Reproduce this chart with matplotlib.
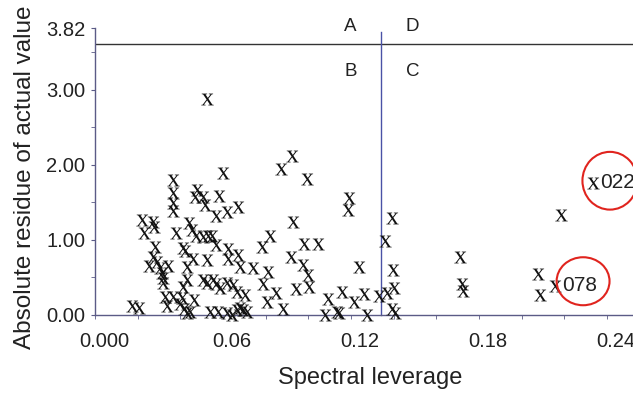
import numpy as np
import matplotlib.pyplot as plt
from matplotlib.patches import Ellipse
from matplotlib.path import Path
from matplotlib.textpath import TextPath
from matplotlib.font_manager import FontProperties

plt.rcParams['font.family'] = ['Liberation Sans', 'DejaVu Sans']

# --- data ---
leverage = [
    0.0483, 0.0558, 0.0830, 0.0881, 0.0952, 0.0323, 0.0323, 0.0436, 0.0427, 0.0464,
    0.0539, 0.0323, 0.0474, 0.0628, 0.0577, 0.0525, 0.0323, 0.0178, 0.0230, 0.0234,
    0.0188, 0.0338, 0.0398, 0.0413, 0.0431, 0.0464, 0.0488, 0.0506, 0.0525, 0.0778,
    0.0741, 0.0239, 0.0370, 0.0380, 0.0581, 0.0628, 0.0230, 0.0211, 0.0248, 0.0263,
    0.0300, 0.0417, 0.0389, 0.0483, 0.0581, 0.0638, 0.0699, 0.0769, 0.0272, 0.0277,
    0.0277, 0.0389, 0.0370, 0.0464, 0.0483, 0.0511, 0.0525, 0.0544, 0.0577, 0.0605,
    0.0624, 0.0661, 0.0745, 0.0806, 0.0764, 0.0286, 0.0323, 0.0366, 0.0422, 0.0295,
    0.0356, 0.0375, 0.0389, 0.0403, 0.0131, 0.0164, 0.0497, 0.0534, 0.0577, 0.0600,
    0.0624, 0.0638, 0.0652, 0.0670, 0.0839, 0.1149, 0.1144, 0.0886, 0.0938, 0.1003,
    0.0877, 0.0933, 0.0956, 0.0961, 0.1195, 0.0900, 0.1050, 0.1036, 0.1116, 0.1172,
    0.1092, 0.1102, 0.1219, 0.1233, 0.1289, 0.1327, 0.1360, 0.1350, 0.1317, 0.1355,
    0.1350, 0.1364, 0.1669, 0.1678, 0.1683, 0.2035, 0.2044, 0.2114, 0.2143, 0.2293,
]
residue = [
    2.88, 1.89, 1.95, 2.12, 1.81, 1.80, 1.63, 1.67, 1.57, 1.57,
    1.59, 1.49, 1.47, 1.44, 1.37, 1.32, 1.39, 1.27, 1.24, 1.17,
    1.09, 1.09, 1.23, 1.13, 1.05, 1.04, 1.05, 1.05, 0.93, 1.05,
    0.91, 0.91, 0.89, 0.85, 0.88, 0.80, 0.77, 0.65, 0.71, 0.63,
    0.65, 0.75, 0.64, 0.73, 0.75, 0.64, 0.63, 0.57, 0.56, 0.49,
    0.43, 0.47, 0.37, 0.47, 0.43, 0.47, 0.41, 0.36, 0.43, 0.40,
    0.31, 0.27, 0.41, 0.29, 0.17, 0.24, 0.24, 0.23, 0.20, 0.12,
    0.15, 0.08, 0.03, 0.04, 0.12, 0.09, 0.04, 0.04, 0.03, 0.00,
    0.07, 0.09, 0.07, 0.04, 0.08, 1.56, 1.40, 1.24, 0.95, 0.95,
    0.77, 0.67, 0.53, 0.37, 0.64, 0.35, 0.21, 0.00, 0.31, 0.17,
    0.04, 0.03, 0.28, 0.00, 0.25, 0.29, 0.36, 1.29, 0.99, 0.60,
    0.08, 0.03, 0.77, 0.41, 0.32, 0.55, 0.27, 0.39, 1.33, 1.76,
]

xtick_values = [0.0, 0.06, 0.12, 0.18, 0.24]
xtick_labels = ['0.000', '0.06', '0.12', '0.18', '0.24']
ytick_values = [0.0, 1.0, 2.0, 3.0, 3.82]
ytick_labels = ['0.00', '1.00', '2.00', '3.00', '3.82']

leverage_cut = 0.130
residue_cut = 3.61

outlier_names = ['022', '078']
outlier_x = [0.2293, 0.2114]
outlier_y = [1.76, 0.39]

AXIS_COLOR = '#5b5b86'
TEXT_COLOR = '#222222'

# serif "x" glyph used as the point marker
tp = TextPath((0, 0), 'x', size=10, prop=FontProperties(family='Liberation Serif'))
ext = tp.get_extents()
center = [(ext.x0 + ext.x1) / 2, (ext.y0 + ext.y1) / 2]
x_marker = Path(tp.vertices - center, tp.codes)

fig = plt.figure(figsize=(6.33, 3.93), dpi=100)
ax = fig.add_axes([0.1501, 0.1985, 0.8499, 0.7290])

ax.scatter(leverage, residue, marker=x_marker, s=85, c='#111111',
           linewidths=0, clip_on=False, zorder=3)

# quadrant split lines
ax.axhline(residue_cut, color='#333333', lw=1, zorder=2)
ax.plot([leverage_cut, leverage_cut], [0, 3.77], color='#4a52a6', lw=1,
        clip_on=False, zorder=2)

for lab, dx, dy in [('A', -0.0145, 0.23), ('D', 0.0146, 0.23),
                    ('B', -0.0145, -0.36), ('C', 0.0146, -0.36)]:
    ax.text(leverage_cut + dx, residue_cut + dy, lab, ha='center', va='center',
            fontsize=13.5, color=TEXT_COLOR, clip_on=False)

# outlier labels with red rings
ring_offsets = [(0.0079, 0.03, 0.0258, 0.77), (0.0132, 0.06, 0.0248, 0.64)]
for name, x, y, (dx, dy, w, h) in zip(outlier_names, outlier_x, outlier_y, ring_offsets):
    ax.text(x + 0.0032, y, name, ha='left', va='center', fontsize=15,
            color=TEXT_COLOR, clip_on=False)
    ax.add_patch(Ellipse((x + dx, y + dy), w, h, fill=False,
                         edgecolor='#e0241e', lw=1.5, clip_on=False, zorder=4))

ax.set_xlim(-0.0042, 0.248)
ax.set_ylim(0, 3.82)

ax.set_xticks(xtick_values, xtick_labels)
ax.set_xticks(np.arange(-0.0042, 0.24, 0.02), minor=True)
ax.set_yticks(ytick_values, ytick_labels)
ax.set_yticks([0.5, 1.5, 2.5, 3.5], minor=True)

ax.tick_params(axis='x', which='major', length=0, pad=12, labelsize=14.5,
               labelcolor=TEXT_COLOR)
ax.tick_params(axis='x', which='minor', length=3, direction='out', color=AXIS_COLOR)
ax.tick_params(axis='y', which='both', length=3, direction='out', color=AXIS_COLOR,
               pad=4, labelsize=14.5, labelcolor=TEXT_COLOR)

for side in ['top', 'right']:
    ax.spines[side].set_visible(False)
for side in ['left', 'bottom']:
    ax.spines[side].set_color(AXIS_COLOR)
    ax.spines[side].set_linewidth(1)

fig.text(0.5845, 0.0382, 'Spectral leverage', ha='center', va='center',
         fontsize=17, color=TEXT_COLOR)
fig.text(0.0395, 0.5496, 'Absolute residue of actual value', ha='center',
         va='center', rotation=90, fontsize=17.5, color=TEXT_COLOR)

fig.savefig('out.png', dpi=100)
